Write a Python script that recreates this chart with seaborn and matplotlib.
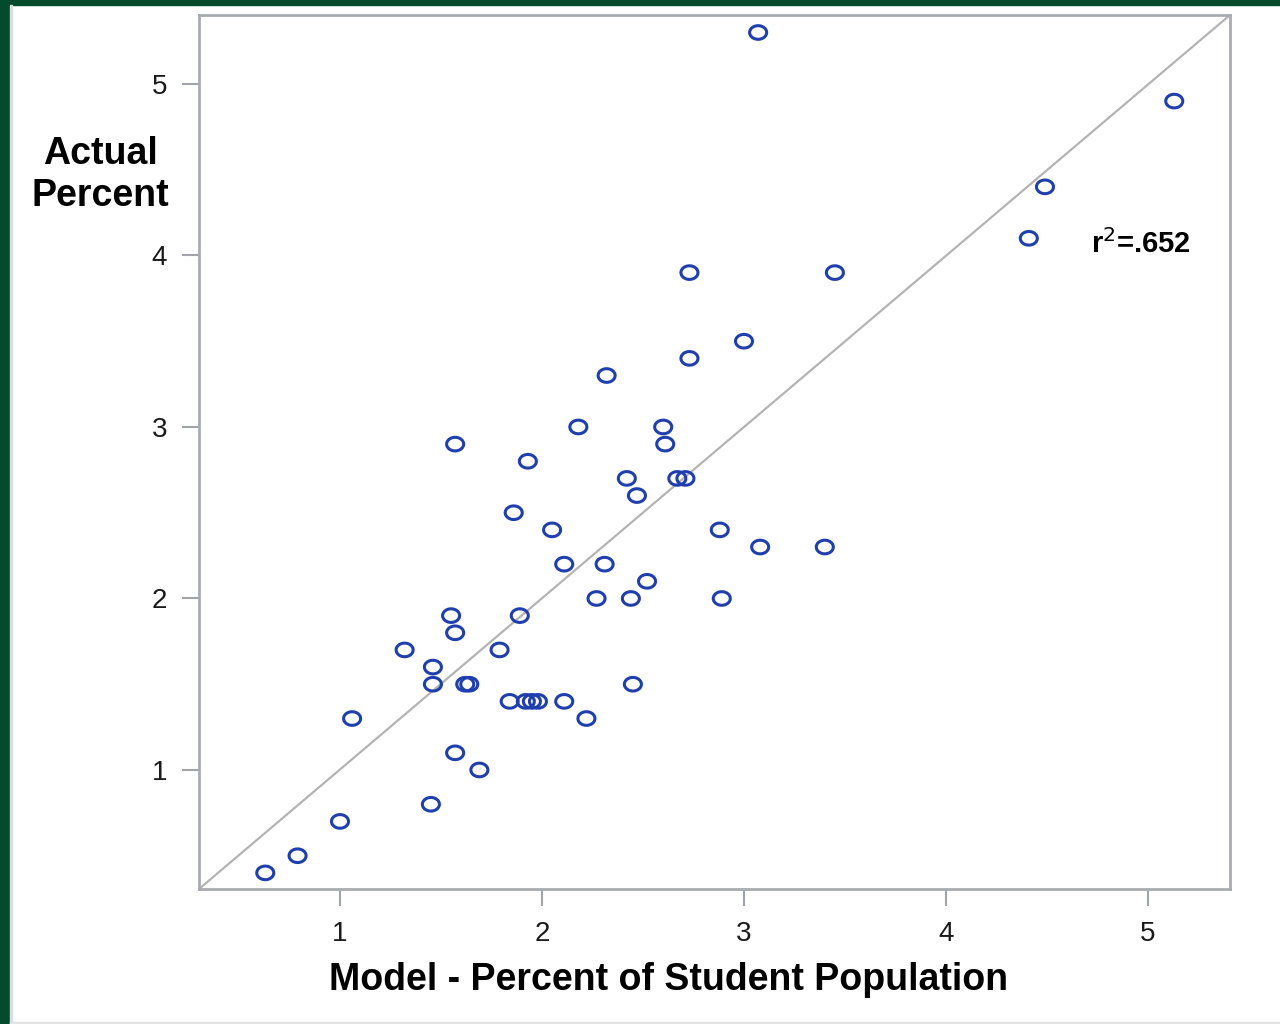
import numpy as np
import pandas as pd
import seaborn as sns
import matplotlib.pyplot as plt
from matplotlib.path import Path
from matplotlib.patches import Rectangle

sns.set_theme(style="white")
plt.rcParams['font.family'] = ['Liberation Sans', 'DejaVu Sans']
plt.rcParams['text.color'] = 'black'

# model vs actual percent
model = [3.07, 5.13, 4.49, 4.41, 2.73, 3.45, 3.00, 2.73, 2.32, 2.18,
         2.60, 2.61, 1.57, 1.93, 2.42, 2.67, 2.71, 2.47, 1.86, 2.05,
         2.88, 2.11, 2.31, 3.08, 3.40, 2.52, 2.27, 2.44, 2.89, 1.55,
         1.89, 1.57, 1.32, 1.79, 1.46, 1.46, 1.62, 1.64, 2.45, 1.84,
         1.92, 1.95, 1.98, 2.11, 1.06, 2.22, 1.57, 1.69, 1.45, 1.00,
         0.79, 0.63]
actual = [5.3, 4.9, 4.4, 4.1, 3.9, 3.9, 3.5, 3.4, 3.3, 3.0,
          3.0, 2.9, 2.9, 2.8, 2.7, 2.7, 2.7, 2.6, 2.5, 2.4,
          2.4, 2.2, 2.2, 2.3, 2.3, 2.1, 2.0, 2.0, 2.0, 1.9,
          1.9, 1.8, 1.7, 1.7, 1.6, 1.5, 1.5, 1.5, 1.5, 1.4,
          1.4, 1.4, 1.4, 1.4, 1.3, 1.3, 1.1, 1.0, 0.8, 0.7,
          0.5, 0.4]
r2_label = 'r$^2$=.652'

df = pd.DataFrame({'model': model, 'actual': actual})

# slightly flattened circle like the original markers
t = np.linspace(0, 2 * np.pi, 60)
ellipse = Path(np.column_stack([np.cos(t), 0.8 * np.sin(t)]), closed=True)

fig = plt.figure(figsize=(12.8, 10.24), dpi=100)
ax = fig.add_axes([199 / 1280, 1 - 889 / 1024, 1031 / 1280, 874 / 1024])

lo, hi = 0.302, 5.406
ax.plot([lo, hi], [0.306, 5.402], color='#b4b4b4', lw=1.6, zorder=1)

sns.scatterplot(data=df, x='model', y='actual', ax=ax, marker=ellipse, s=150,
                facecolor='none', edgecolor='#1f3fae', linewidth=2.2, zorder=3)

ax.set_xlim(lo, hi)
ax.set_ylim(0.306, 5.402)
ax.set_xticks([1, 2, 3, 4, 5])
ax.set_yticks([1, 2, 3, 4, 5])
ax.tick_params(axis='both', length=12, width=1.5, color='#a0a4a8',
               labelsize=20, labelcolor='#1a1a1a', pad=11, bottom=True, left=True)
for sp in ax.spines.values():
    sp.set_color('#a8acb0')
    sp.set_linewidth(2)

ax.set_xlabel('')
ax.set_ylabel('')
fig.text(669 / 1280, 1 - 980 / 1024, 'Model - Percent of Student Population', fontsize=27,
         fontweight='bold', ha='center', va='center', color='black')
fig.text(100 / 1280, 1 - 175 / 1024, 'Actual\nPercent', fontsize=27,
         fontweight='bold', ha='center', va='center', linespacing=1.25, color='black')
ax.text(1141 / 1280, 1 - 244 / 1024, r2_label, transform=fig.transFigure,
        fontsize=21, fontweight='bold', ha='center', va='center', color='black')

# green frame of the slide
fig.patches.append(Rectangle((0, 1 - 5 / 1024), 1, 5 / 1024, transform=fig.transFigure,
                             color='#044a2c', zorder=0))
fig.patches.append(Rectangle((0, 0), 10 / 1280, 1, transform=fig.transFigure,
                             color='#044a2c', zorder=0))
fig.patches.append(Rectangle((10 / 1280, 0), 2 / 1280, 1 - 5 / 1024, transform=fig.transFigure,
                             color='#dddddd', zorder=0))
fig.patches.append(Rectangle((10 / 1280, 0), 1, 2 / 1024, transform=fig.transFigure,
                             color='#e4e4e4', zorder=0))

fig.savefig('out.png', dpi=100)
